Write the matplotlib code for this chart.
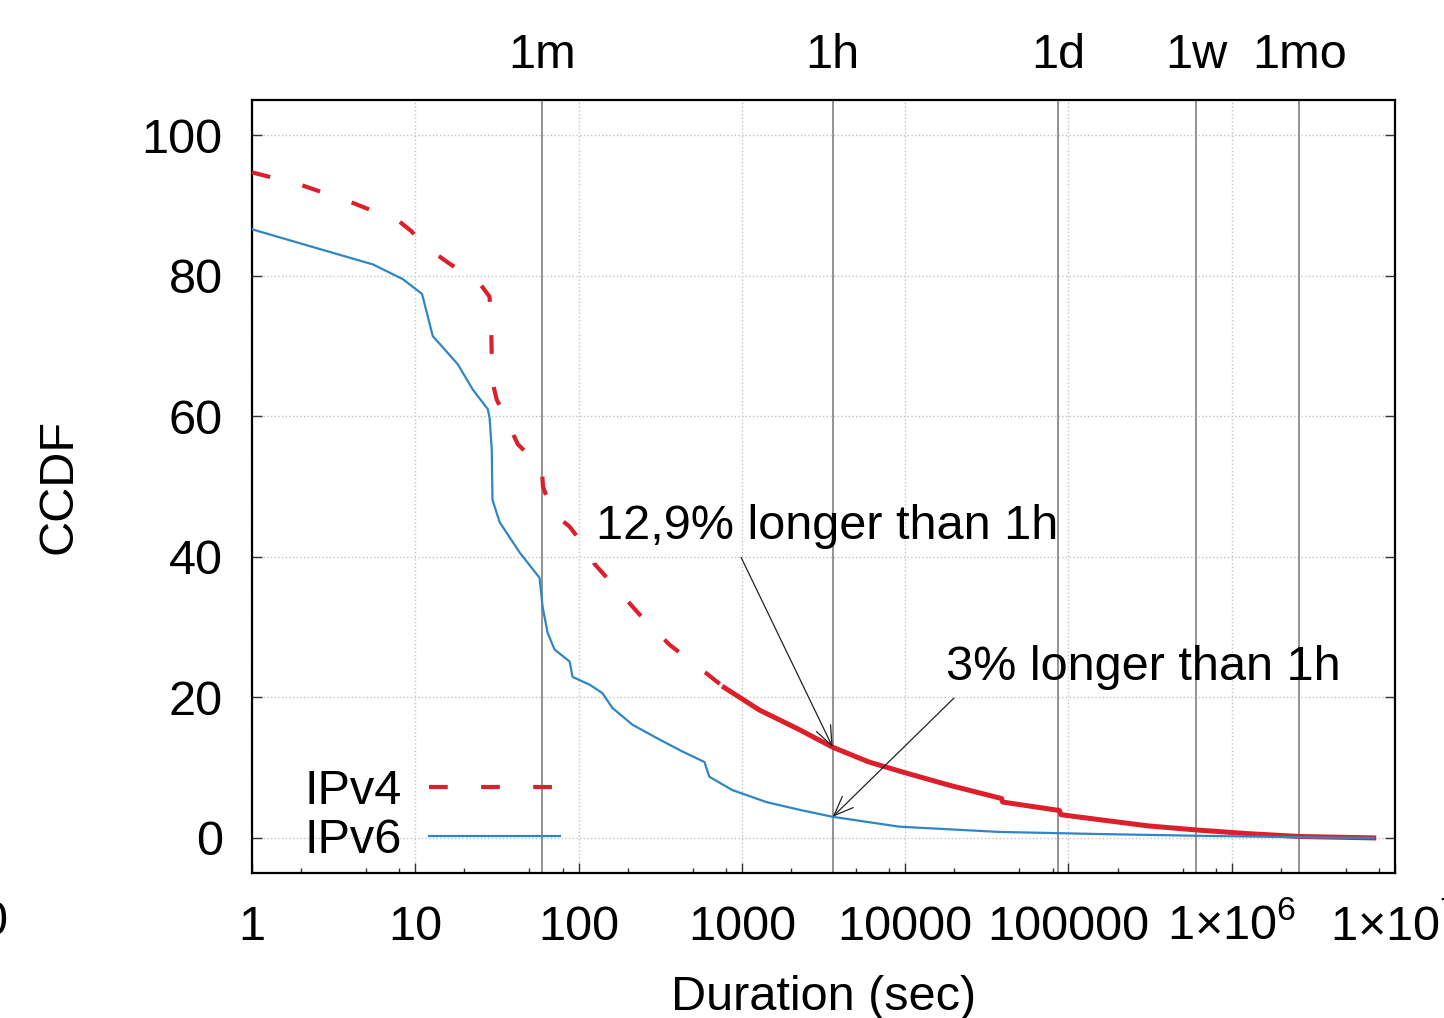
"""CCDF of connection durations, IPv4 vs IPv6, gnuplot-style log x axis."""
import matplotlib

matplotlib.use("Agg")

import matplotlib.pyplot as plt  # noqa: E402
import numpy as np  # noqa: E402

plt.rcParams["font.family"] = ["Liberation Sans", "DejaVu Sans"]
plt.rcParams["mathtext.fontset"] = "custom"
plt.rcParams["mathtext.rm"] = "Liberation Sans"
plt.rcParams["font.size"] = 35

# --- data --------------------------------------------------------------------
ipv4_sec = [1, 2, 4, 8, 9.5, 11, 16, 25, 28.5, 29.2, 29.6, 31.5, 38, 42.5, 57.5,
            60, 60.5, 69, 88, 122, 125, 178, 236, 360, 550, 780, 1280, 2250,
            3600, 6000, 9900, 18600, 39000, 39500, 88000, 90000, 154000, 310000,
            630000, 1.27e6, 2.6e6, 7.4e6]
ipv4_ccdf = [94.7, 92.9, 90.5, 87.7, 86.3, 84.5, 81.8, 78.8, 77.0, 72.0, 65.0,
             62.4, 58.4, 56.0, 53.0, 51.5, 50.0, 46.3, 44.3, 40.0, 39.0, 35.0,
             31.8, 27.5, 24.2, 21.4, 18.2, 15.4, 12.9, 10.8, 9.3, 7.5, 5.6, 5.1,
             3.9, 3.3, 2.6, 1.7, 1.1, 0.6, 0.2, 0.0]

ipv6_sec = [1, 2.26, 5.5, 8.4, 11.0, 12.8, 18.2, 22.5, 27.8, 28.5, 29.4, 29.7,
            32.9, 43.6, 57.7, 60.2, 64.6, 71.3, 88.1, 91.9, 117, 140, 161, 214,
            313, 432, 590, 632, 875, 1413, 2250, 3600, 9180, 37600, 154000,
            628000, 2.6e6, 7.4e6]
ipv6_ccdf = [86.6, 84.2, 81.6, 79.5, 77.4, 71.4, 67.4, 63.8, 61.0, 59.8, 55.3,
             48.1, 44.9, 40.6, 37.0, 32.9, 29.2, 26.8, 25.1, 22.9, 21.8, 20.6,
             18.5, 16.1, 14.0, 12.3, 10.8, 8.7, 6.8, 5.1, 4.0, 3.0, 1.6, 0.85,
             0.55, 0.3, 0.1, 0.0]

time_marks = [60, 3600, 86400, 604800, 2592000]
time_labels = ["1m", "1h", "1d", "1w", "1mo"]

decade_ticks = [1, 10, 100, 1000, 10000, 100000, 1e6, 1e7]
decade_labels = ["1", "10", "100", "1000", "10000", "100000",
                 "1×10$^{6}$", "1×10$^{7}$"]
y_ticks = [0, 20, 40, 60, 80, 100]

notes = [
    # text, text anchor (x, y), arrow tail, arrow head
    ("12,9% longer than 1h", (127, 44.3), (990, 39.9), (3600, 12.9)),
    ("3% longer than 1h", (17800, 24.2), (19900, 19.9), (3600, 3.0)),
]

RED = "#dc1f2a"
BLUE = "#2f86c4"
SOLID_FROM = 780  # the IPv4 dashes merge into a solid line where data get dense


def main() -> None:
    fig = plt.figure(figsize=(14.44, 10.18), dpi=100)
    ax = fig.add_axes([0.1745, 0.1424, 0.7916, 0.7594])

    ax.set_xscale("log")
    ax.set_xlim(1, 1e7)
    ax.set_ylim(-5, 105)

    for t in time_marks:
        ax.axvline(t, color="#8a8a8a", lw=1.3, zorder=1.6)

    sec4 = np.asarray(ipv4_sec)
    cc4 = np.asarray(ipv4_ccdf)
    dashed = sec4 <= SOLID_FROM
    solid = sec4 >= SOLID_FROM
    ax.plot(sec4[dashed], cc4[dashed], color=RED, lw=3.0,
            linestyle=(0, (4.5, 8.0)), label="IPv4", zorder=3)
    ax.plot(sec4[solid], cc4[solid], color=RED, lw=3.6, zorder=3)
    ax.plot(ipv6_sec, ipv6_ccdf, color=BLUE, lw=1.6, label="IPv6", zorder=3)

    for text, pos, tail, head in notes:
        ax.text(pos[0], pos[1], text, ha="left", va="center", zorder=4)
        ax.annotate("", xy=head, xytext=tail, zorder=4,
                    arrowprops=dict(arrowstyle="->,head_length=0.4,head_width=0.16",
                                    color="#222222", lw=0.9,
                                    shrinkA=0, shrinkB=0))

    ax.set_xticks(decade_ticks)
    ax.set_xticklabels(decade_labels)
    minor = [m * 10.0 ** e for e in range(7) for m in (2, 5, 8)]
    ax.set_xticks(minor, minor=True)
    ax.set_xticklabels([], minor=True)
    for lab in ax.get_xticklabels():
        lab.set_verticalalignment("baseline")
    ax.set_yticks(y_ticks)

    ax.tick_params(which="both", direction="in", top=True, right=True,
                   color="#333333", width=1.0)
    ax.tick_params(which="major", length=7)
    ax.tick_params(which="minor", length=3.5)
    ax.tick_params(axis="x", which="major", pad=48)
    ax.tick_params(axis="y", which="major", pad=21)

    ax.grid(True, which="major", linestyle=":", color="#c4c4c4", lw=1.0)
    for s in ax.spines.values():
        s.set_linewidth(1.6)

    ax.set_xlabel("Duration (sec)")
    ax.xaxis.set_label_coords(0.5, -0.132)
    ax.set_ylabel("CCDF")
    ax.yaxis.set_label_coords(-0.149, 0.5)

    top = ax.twiny()
    top.set_xscale("log")
    top.set_xlim(ax.get_xlim())
    top.set_xticks(time_marks)
    top.set_xticklabels(time_labels)
    top.set_xticks([], minor=True)
    top.tick_params(axis="x", length=0, pad=16)
    for s in top.spines.values():
        s.set_visible(False)

    ax.legend(loc="lower left", bbox_to_anchor=(0.046, 0.013), frameon=False,
              markerfirst=False, handlelength=2.7, handletextpad=0.55,
              labelspacing=0.08, borderpad=0, borderaxespad=0)

    # leftover tick label of a neighbouring panel, cut at the left border
    fig.text(0.005, 0.0943, "0", ha="right", va="center")

    fig.savefig("out.png", dpi=100)
    plt.close(fig)


if __name__ == "__main__":
    main()
